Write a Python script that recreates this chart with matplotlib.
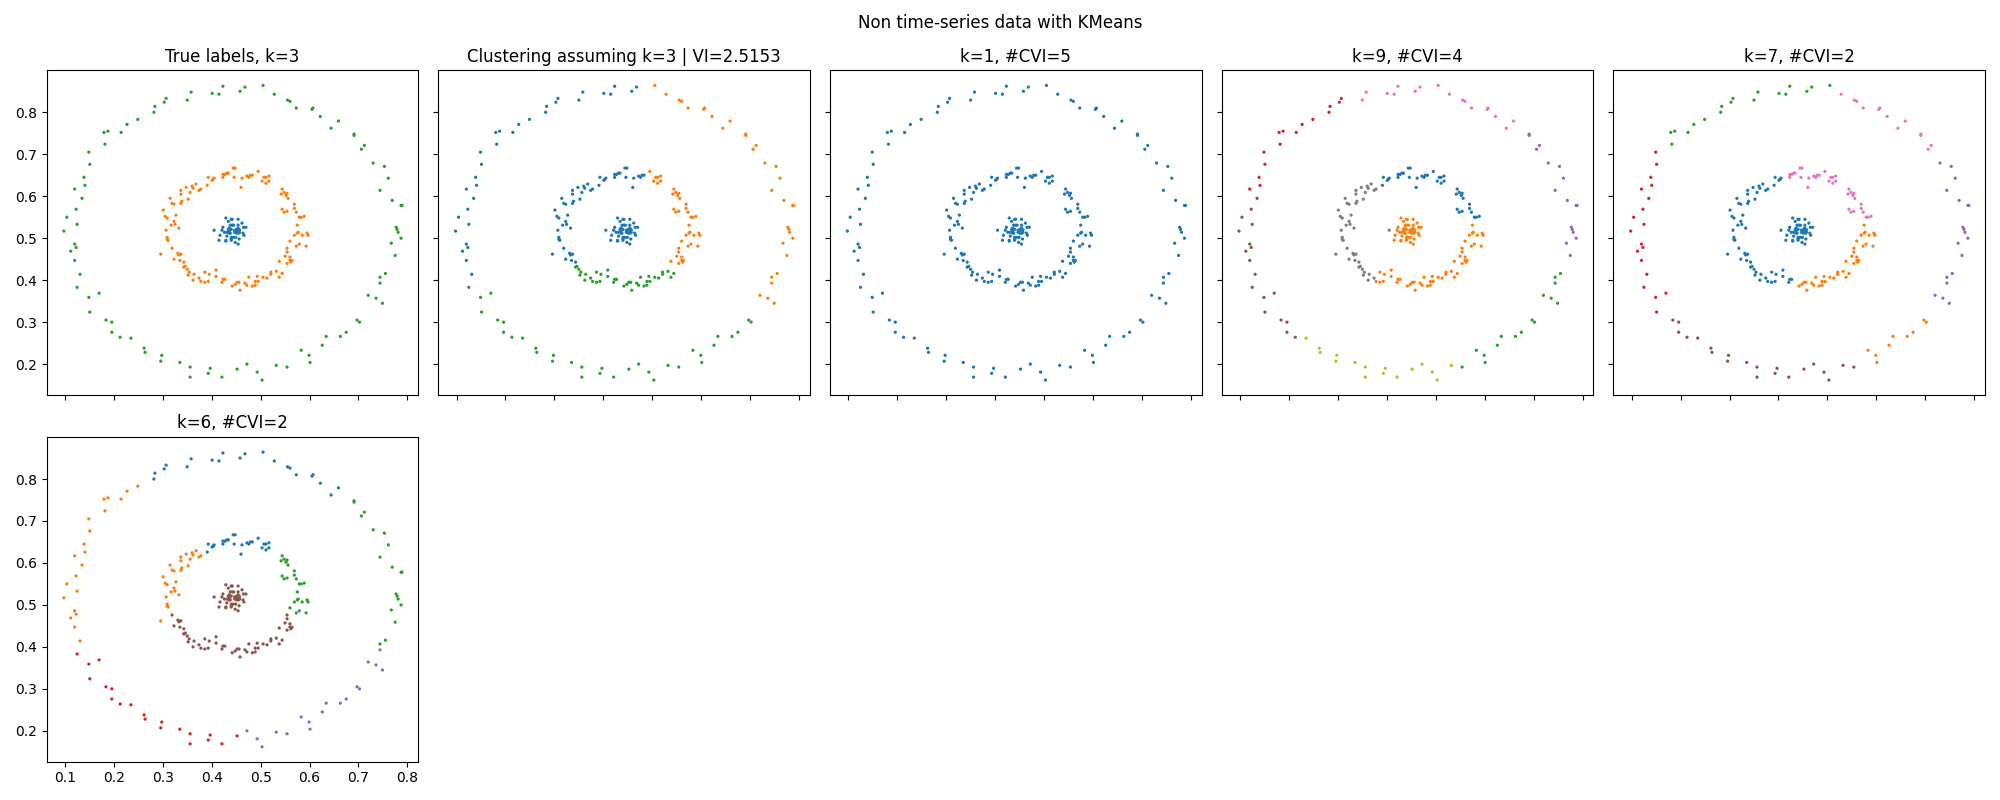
import numpy as np
import matplotlib
matplotlib.use("Agg")
import matplotlib.pyplot as plt

outer_x = [.423,.505,.468,.458,.358,.401,.415,.528,.307,.303,.350,.555,.560,.284,.573,.605,.607,.282,.622,.249,
           .659,.227,.644,.180,.188,.215,.691,.691,.182,.712,.706,.149,.151,.730,.753,.139,.761,.141,.120,.744,
           .135,.769,.787,.789,.123,.104,.125,.777,.779,.781,.098,.787,.120,.123,.767,.112,.775,.120,.755,.131,
           .744,.744,.125,.170,.149,.720,.736,.749,.151,.184,.196,.697,.702,.196,.213,.235,.634,.663,.675,.626,
           .262,.264,.583,.298,.599,.296,.601,.335,.472,.532,.356,.554,.397,.452,.393,.493,.356,.421,.503]
outer_y = [.862,.864,.860,.850,.848,.845,.843,.843,.833,.824,.829,.829,.826,.814,.810,.807,.810,.800,.790,.783,
           .779,.771,.762,.752,.755,.752,.748,.745,.724,.721,.712,.705,.676,.679,.671,.645,.643,.626,.617,.614,
           .595,.590,.578,.578,.569,.550,.533,.526,.521,.514,.517,.500,.486,.478,.488,.469,.459,.447,.416,.414,
           .407,.393,.383,.369,.359,.364,.357,.345,.324,.305,.300,.305,.300,.276,.264,.262,.266,.266,.276,.245,
           .238,.228,.233,.221,.221,.207,.204,.204,.200,.197,.193,.193,.190,.188,.178,.181,.169,.169,.162]

inner_x = [.444,.448,.495,.423,.427,.431,.434,.393,.423,.446,.462,.472,.476,.479,.483,.507,.511,.517,.405,.403,
           .401,.503,.517,.511,.368,.391,.348,.360,.362,.460,.378,.374,.337,.356,.337,.544,.548,.554,.542,.552,
           .556,.315,.352,.339,.337,.319,.323,.569,.569,.301,.544,.554,.548,.573,.327,.305,.309,.579,.583,.589,
           .323,.325,.317,.575,.333,.307,.595,.597,.575,.577,.569,.585,.309,.309,.311,.560,.579,.573,.593,.319,
           .554,.331,.554,.337,.333,.296,.550,.560,.323,.335,.564,.560,.562,.538,.554,.343,.346,.343,.350,.354,
           .352,.386,.395,.409,.364,.409,.532,.521,.521,.544,.513,.505,.538,.493,.476,.374,.362,.378,.386,.393,
           .427,.423,.421,.452,.456,.489,.495,.468,.448,.472,.442,.483,.489,.458]
inner_y = [.667,.667,.659,.652,.652,.655,.655,.645,.645,.645,.643,.648,.645,.650,.650,.645,.645,.648,.643,.640,
           .638,.636,.636,.631,.629,.626,.621,.624,.619,.621,.617,.614,.614,.609,.605,.617,.609,.607,.605,.602,
           .595,.595,.593,.588,.583,.583,.581,.581,.571,.567,.569,.564,.562,.562,.555,.552,.548,.550,.550,.552,
           .540,.533,.531,.531,.524,.519,.512,.507,.512,.514,.507,.507,.502,.497,.495,.493,.486,.481,.481,.476,
           .476,.464,.467,.462,.460,.462,.457,.455,.450,.447,.447,.447,.443,.445,.440,.443,.433,.431,.426,.419,
           .412,.419,.414,.424,.414,.409,.421,.419,.414,.416,.405,.407,.407,.409,.407,.405,.400,.397,.395,.397,
           .402,.402,.395,.395,.395,.397,.397,.393,.390,.388,.386,.386,.388,.376]

center_x = [.429,.440,.442,.454,.462,.434,.438,.423,.445,.454,.465,.470,.405,.421,.426,.431,.436,.436,.440,.447,
            .451,.454,.453,.457,.447,.455,.464,.466,.417,.431,.440,.444,.449,.456,.415,.429,.429,.440,.440,.448,
            .454,.436,.438,.451,.457,.442,.451,.434]
center_y = [.548,.545,.545,.545,.536,.540,.531,.526,.531,.531,.526,.526,.519,.519,.514,.514,.524,.517,.521,.519,
            .521,.524,.514,.514,.514,.512,.512,.507,.507,.505,.502,.502,.502,.498,.495,.495,.493,.498,.495,.490,
            .486,.512,.512,.517,.520,.531,.512,.521]

# Cluster centres (x, y), in colour order
centres_k3_x = [.36, .63, .41]
centres_k3_y = [.59, .60, .29]
centres_k1_x = [.45]
centres_k1_y = [.52]
centres_k9_x = [.49, .474, .66, .19, .74, .13, .50, .338, .39]
centres_k9_y = [.625, .47, .27, .73, .60, .40, .82, .515, .20]
centres_k7_x = [.38, .556, .35, .125, .76, .37, .56]
centres_k7_y = [.50, .385, .81, .51, .52, .22, .70]
centres_k6_x = [.46, .245, .65, .28, .63, .445]
centres_k6_y = [.73, .59, .555, .26, .26, .46]

titles = ["True labels, k=3", "Clustering assuming k=3 | VI=2.5153", "k=1, #CVI=5",
          "k=9, #CVI=4", "k=7, #CVI=2", "k=6, #CVI=2"]
suptitle = "Non time-series data with KMeans"

x = np.array(center_x + inner_x + outer_x)
y = np.array(center_y + inner_y + outer_y)
true_labels = np.array([0] * len(center_x) + [1] * len(inner_x) + [2] * len(outer_x))


def assign(cx, cy):
    d = (x[:, None] - np.array(cx)) ** 2 + (y[:, None] - np.array(cy)) ** 2
    return d.argmin(axis=1)


panels = [true_labels,
          assign(centres_k3_x, centres_k3_y),
          assign(centres_k1_x, centres_k1_y),
          assign(centres_k9_x, centres_k9_y),
          assign(centres_k7_x, centres_k7_y),
          assign(centres_k6_x, centres_k6_y)]

fig, axes = plt.subplots(2, 5, figsize=(20, 8), dpi=100, sharex=True, sharey=True)
fig.subplots_adjust(left=46.5 / 2000, right=1985 / 2000, top=1 - 70 / 800, bottom=1 - 761.5 / 800,
                    wspace=20 / 371, hspace=42 / 325)
flat = axes.ravel()
cmap = plt.get_cmap("tab10")
for ax, labels, title in zip(flat, panels, titles):
    ax.scatter(x, y, c=[cmap(int(i)) for i in labels], s=5.5, linewidths=0)
    ax.set_title(title)
for ax in flat[6:]:
    ax.remove()
flat[0].set_xlim(0.0625, 0.822)
flat[0].set_ylim(0.127, 0.9007)
flat[0].set_xticks([.1, .2, .3, .4, .5, .6, .7, .8])
flat[0].set_yticks([.2, .3, .4, .5, .6, .7, .8])
for ax in flat[:5]:
    ax.tick_params(labelbottom=False)
flat[5].tick_params(labelbottom=True)
fig.suptitle(suptitle, y=1 - 23 / 800, va="center", x=0.5)
fig.savefig("out.png", dpi=100)
